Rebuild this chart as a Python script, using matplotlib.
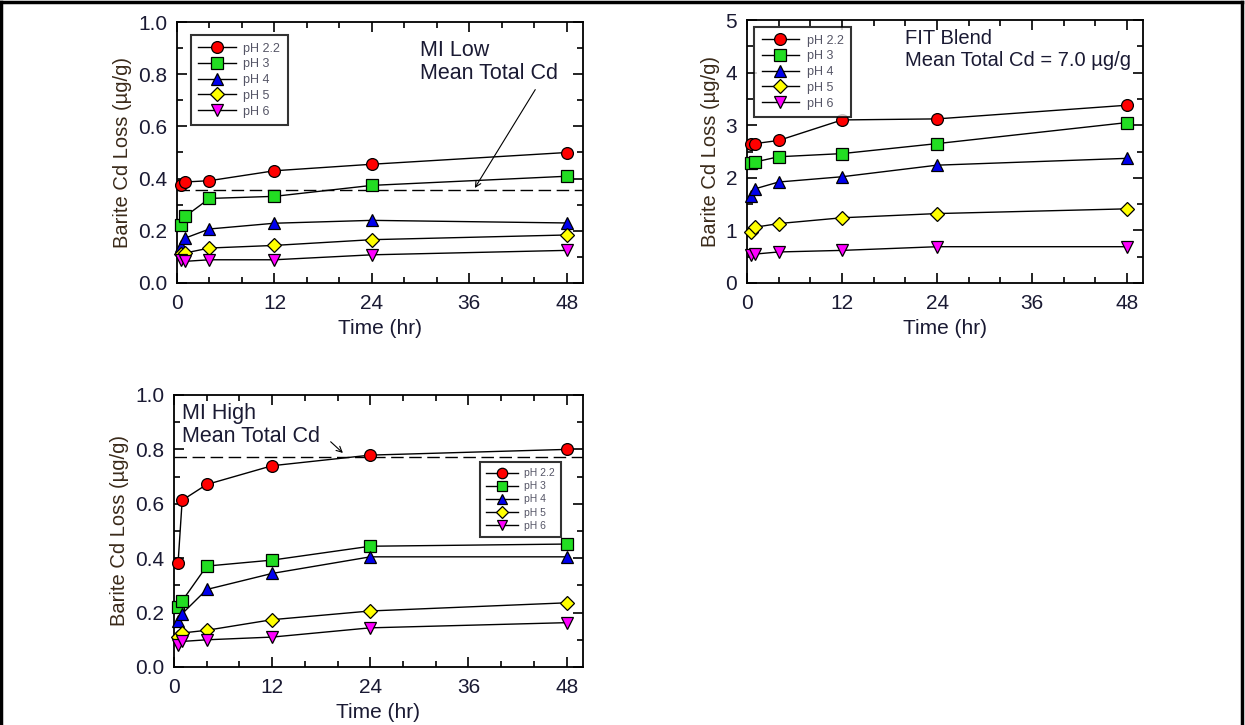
import matplotlib
matplotlib.use("Agg")
import matplotlib.pyplot as plt
from matplotlib.ticker import MultipleLocator, FormatStrFormatter
from matplotlib.lines import Line2D

plt.rcParams["font.family"] = ["Liberation Sans", "DejaVu Sans"]

# sampling times (hr)
TIME = [0.5, 1, 4, 12, 24, 48]
LABELS = ["pH 2.2", "pH 3", "pH 4", "pH 5", "pH 6"]
COLORS = ["#ff0000", "#22dd22", "#0000ee", "#ffff00", "#ff00ff"]
MARKERS = ["o", "s", "^", "D", "v"]

# MI Low barite
MI_LOW = [
    [0.374, 0.387, 0.392, 0.430, 0.455, 0.500],
    [0.223, 0.255, 0.324, 0.332, 0.374, 0.409],
    [0.140, 0.172, 0.207, 0.229, 0.240, 0.230],
    [0.112, 0.115, 0.134, 0.144, 0.166, 0.184],
    [0.087, 0.083, 0.089, 0.089, 0.108, 0.125],
]
MI_LOW_TOTAL = 0.355

# FIT blend barite
FIT = [
    [2.64, 2.65, 2.71, 3.10, 3.12, 3.38],
    [2.28, 2.30, 2.40, 2.46, 2.65, 3.05],
    [1.65, 1.79, 1.92, 2.02, 2.24, 2.37],
    [0.97, 1.06, 1.13, 1.24, 1.32, 1.41],
    [0.53, 0.55, 0.59, 0.62, 0.69, 0.69],
]

# MI High barite
MI_HIGH = [
    [0.384, 0.613, 0.671, 0.740, 0.779, 0.800],
    [0.221, 0.243, 0.371, 0.393, 0.444, 0.452],
    [0.169, 0.196, 0.285, 0.344, 0.405, 0.405],
    [0.110, 0.125, 0.135, 0.174, 0.206, 0.236],
    [0.080, 0.094, 0.100, 0.110, 0.144, 0.163],
]
MI_HIGH_TOTAL = 0.773

W, H = 1245, 725
FS = 15
TXT = "#1a1a33"


def make_axes(fig, left, right, top, bottom):
    return fig.add_axes([left / W, (H - bottom) / H, (right - left) / W, (bottom - top) / H])


def style(ax, ymax, ymajor, yminor, fmt):
    ax.set_xlim(0, 50)
    ax.set_ylim(0, ymax)
    ax.xaxis.set_major_locator(MultipleLocator(12))
    ax.xaxis.set_minor_locator(MultipleLocator(4))
    ax.yaxis.set_major_locator(MultipleLocator(ymajor))
    ax.yaxis.set_minor_locator(MultipleLocator(yminor))
    ax.yaxis.set_major_formatter(FormatStrFormatter(fmt))
    ax.tick_params(which="both", direction="in", top=True, right=True, labelsize=FS,
                   labelcolor=TXT)
    ax.tick_params(axis="x", pad=8)
    ax.tick_params(axis="y", pad=7)
    ax.tick_params(which="major", length=7, width=1.2)
    ax.tick_params(which="minor", length=4, width=1.2)
    for s in ax.spines.values():
        s.set_linewidth(1.3)
    ax.set_xlabel("Time (hr)", fontsize=FS, labelpad=4, color=TXT)
    ax.set_ylabel("Barite Cd Loss (µg/g)", fontsize=FS - 0.5, labelpad=4, color="#3a2a1a")


def draw(ax, data, ms):
    for vals, c, m in zip(data, COLORS, MARKERS):
        ax.plot(TIME, vals, "-", color="black", lw=1, marker=m, ms=ms if m != "D" else ms - 1,
                mfc=c, mec="black", mew=0.9, clip_on=False, zorder=3)


def legend(ax, loc, anchor, fs, ms):
    handles = [Line2D([], [], color="black", lw=1, marker=m, ms=ms if m != "D" else ms - 1,
                      mfc=c, mec="black", mew=0.9) for c, m in zip(COLORS, MARKERS)]
    leg = ax.legend(handles, LABELS, loc=loc, bbox_to_anchor=anchor, fontsize=fs,
                    frameon=True, fancybox=False, handlelength=3, handletextpad=0.6,
                    labelspacing=0.3, borderpad=0.6, borderaxespad=0, labelcolor="#555566")
    leg.get_frame().set_edgecolor("black")
    leg.get_frame().set_linewidth(1.5)


fig = plt.figure(figsize=(W / 100, H / 100), dpi=100)

# panel 1: MI Low
ax1 = make_axes(fig, 177, 583, 22, 283)
draw(ax1, MI_LOW, 8.5)
ax1.axhline(MI_LOW_TOTAL, color="black", lw=1, ls=(0, (9, 4)), zorder=2)
ax1.text(29.9, 0.93, "MI Low\nMean Total Cd", fontsize=FS + 0.5, va="top", ha="left",
         linespacing=1.1, color=TXT)
ax1.annotate("", xy=(36.5, MI_LOW_TOTAL), xytext=(44.3, 0.75),
             arrowprops=dict(arrowstyle="->", color="black", lw=0.8))
style(ax1, 1.0, 0.2, 0.1, "%.1f")
legend(ax1, "upper left", (0.034, 0.95), 9, 8.5)

# panel 2: FIT Blend
ax2 = make_axes(fig, 747, 1143, 20, 283)
draw(ax2, FIT, 8.5)
ax2.text(19.9, 4.82, "FIT Blend\nMean Total Cd = 7.0 µg/g", fontsize=FS - 0.5, va="top",
         ha="left", linespacing=1.2, color=TXT)
style(ax2, 5, 1, 0.5, "%d")
legend(ax2, "upper left", (0.018, 0.973), 9, 8.5)

# panel 3: MI High
ax3 = make_axes(fig, 174, 583, 395, 667)
draw(ax3, MI_HIGH, 8.5)
ax3.axhline(MI_HIGH_TOTAL, color="black", lw=1, ls=(0, (9, 4)), zorder=2)
ax3.text(1.0, 0.97, "MI High\nMean Total Cd", fontsize=FS + 0.5, va="top", ha="left",
         linespacing=1.1, color=TXT)
ax3.annotate("", xy=(20.9, 0.78), xytext=(18.9, 0.835),
             arrowprops=dict(arrowstyle="->", color="black", lw=0.8))
style(ax3, 1.0, 0.2, 0.1, "%.1f")
legend(ax3, "upper right", (0.946, 0.754), 7.5, 7.5)

# page border
for xs, ys in [((0.5, W - 3), (H - 2, H - 2)), ((W - 3, W - 3), (0, H - 2)), ((1, 1), (0, H - 2))]:
    fig.add_artist(Line2D([x / W for x in xs], [y / H for y in ys], color="black", lw=2.5,
                          transform=fig.transFigure))

fig.savefig("out.png", dpi=100)
